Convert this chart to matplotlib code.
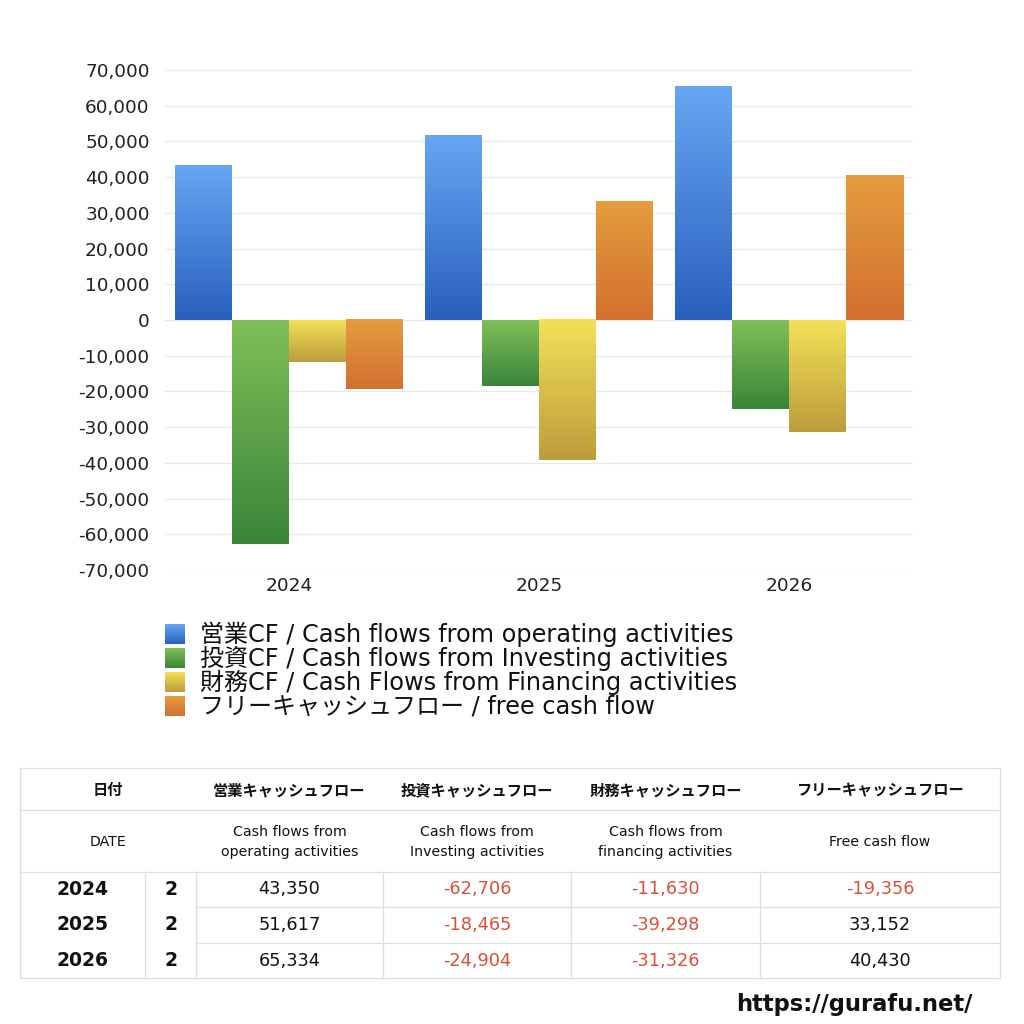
import matplotlib.pyplot as plt
import matplotlib.colors as mcolors
from matplotlib.ticker import FuncFormatter
import numpy as np

plt.rcParams['font.family'] = ['DejaVu Sans', 'Noto Sans CJK JP']

# ---------------- data ----------------
years = ['2024', '2025', '2026']
quarter = ['2', '2', '2']
operating = [43350, 51617, 65334]
investing = [-62706, -18465, -24904]
financing = [-11630, -39298, -31326]
free_cf = [-19356, 33152, 40430]

series_labels = [
    '営業CF / Cash flows from operating activities',
    '投資CF / Cash flows from Investing activities',
    '財務CF / Cash Flows from Financing activities',
    'フリーキャッシュフロー / free cash flow',
]
head_jp = ['日付', '営業キャッシュフロー', '投資キャッシュフロー', '財務キャッシュフロー', 'フリーキャッシュフロー']
head_en = ['DATE', 'Cash flows from\noperating activities', 'Cash flows from\nInvesting activities',
           'Cash flows from\nfinancing activities', 'Free cash flow']

# gradient (top colour, bottom colour) per series
grads = [('#66a6f2', '#2a5fbe'),
         ('#80bf58', '#3a853a'),
         ('#f5df58', '#bb9d3c'),
         ('#e59c3e', '#d3702f')]


def grad_img(top, bottom):
    c0 = np.array(mcolors.to_rgb(top))
    c1 = np.array(mcolors.to_rgb(bottom))
    t = np.linspace(0, 1, 64)[:, None]
    return (c0 * (1 - t) + c1 * t)[:, None, :]


fig = plt.figure(figsize=(10.24, 10.24), dpi=100)

# ---------------- bar chart ----------------
ax = fig.add_axes([165 / 1024, 1 - 570 / 1024, 748 / 1024, 500 / 1024])
x = np.arange(len(years))
w = 0.228
all_series = [operating, investing, financing, free_cf]
for i, vals in enumerate(all_series):
    bars = ax.bar(x + (i - 1.5) * w, vals, w, color='none', linewidth=0)
    for b in bars:
        x0, y0 = b.get_x(), b.get_y()
        h = b.get_height()
        top, bot = max(y0, y0 + h), min(y0, y0 + h)
        ax.imshow(grad_img(*grads[i]), extent=(x0, x0 + b.get_width(), bot, top),
                  aspect='auto', zorder=3, interpolation='bilinear')

ax.set_xlim(-0.496, 2.496)
ax.set_ylim(-70000, 70000)
ax.set_yticks(np.arange(-70000, 70001, 10000))
ax.yaxis.set_major_formatter(FuncFormatter(lambda v, p: f'{int(v):,}'))
ax.set_xticks(x)
ax.set_xticklabels(years)
ax.tick_params(axis='both', length=0, labelsize=13.3, colors='#222222')
ax.tick_params(axis='y', pad=11)
ax.tick_params(axis='x', pad=5)
ax.grid(axis='y', color='#e8e8e8', linewidth=0.9, zorder=0)
ax.set_axisbelow(True)
for s in ax.spines.values():
    s.set_visible(False)

# ---------------- overlay in pixel coordinates ----------------
ov = fig.add_axes([0, 0, 1, 1], zorder=5)
ov.axis('off')
ov.patch.set_alpha(0)

# legend
for i, lab in enumerate(series_labels):
    yc = 634 + i * 24
    ov.imshow(grad_img(*grads[i]), extent=(165, 185, yc + 10, yc - 10),
              aspect='auto', interpolation='bilinear')
    ov.text(200, yc, lab, fontsize=17.3, va='center', ha='left', color='#111111')
ov.set_xlim(0, 1024)
ov.set_ylim(1024, 0)

# table
line_c = '#dedede'
L, R = 20, 1000
rows_y = [768, 810, 872, 907, 943, 978]
cols_x = [20, 145, 196, 383, 571, 760, 1000]
ov.plot([L, R, R, L, L], [768, 768, 978, 978, 768], color=line_c, lw=0.9)
ov.plot([L, R], [810, 810], color=line_c, lw=0.9)
ov.plot([L, R], [872, 872], color=line_c, lw=0.9)
for yy in rows_y[3:5]:
    ov.plot([196, R], [yy, yy], color=line_c, lw=0.9)
for xx in cols_x[1:6]:
    ov.plot([xx, xx], [872, 978], color=line_c, lw=0.9)

hdr_centers = [108, 289.5, 477, 665.5, 880]
for cx, t in zip(hdr_centers, head_jp):
    ov.text(cx, 790, t, fontsize=11, fontweight='bold', ha='center', va='center',
            color='#111111', family=['Noto Sans CJK JP'])
for cx, t in zip(hdr_centers, head_en):
    ov.text(cx, 842, t, fontsize=10.2, ha='center', va='center', color='#111111',
            linespacing=1.5)

red = '#d9503a'
for r, yr in enumerate(years):
    yc = (rows_y[2 + r] + rows_y[3 + r]) / 2
    ov.text(82.5, yc, yr, fontsize=13.5, fontweight='bold', ha='center', va='center', color='#111111')
    ov.text(170.5, yc, quarter[r], fontsize=13.5, fontweight='bold', ha='center', va='center', color='#111111')
    for c, vals in enumerate(all_series):
        v = vals[r]
        cx = (cols_x[2 + c] + cols_x[3 + c]) / 2
        ov.text(cx, yc, f'{v:,}', fontsize=12.8, ha='center', va='center',
                color=red if v < 0 else '#111111')

ov.text(972, 1004, 'https://gurafu.net/', fontsize=16.3, fontweight='bold',
        ha='right', va='center', color='#111111')

fig.savefig('out.png', dpi=100)
